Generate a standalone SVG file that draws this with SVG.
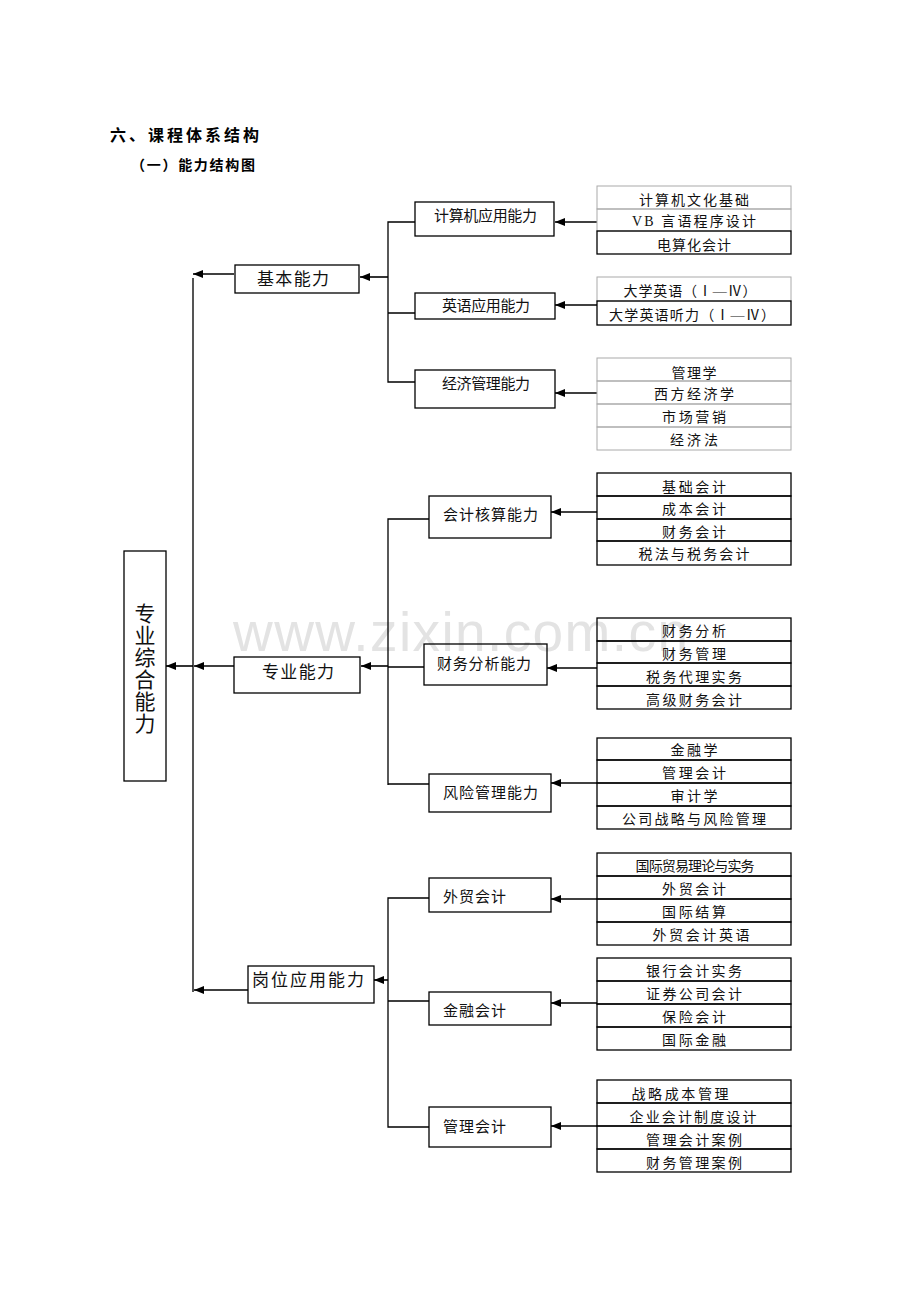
<svg xmlns="http://www.w3.org/2000/svg" width="920" height="1302" viewBox="0 0 920 1302">
<defs>
<marker id="ah" markerWidth="10" markerHeight="8" refX="10" refY="4" orient="auto" markerUnits="userSpaceOnUse"><path d="M0,0 L10,4 L0,8 z" fill="#000"/></marker>
<style>
.t{font-family:"Liberation Sans","Noto Sans CJK SC",sans-serif;font-weight:bold;fill:#000}
.n{font-family:"Liberation Serif","Noto Sans CJK SC",serif;fill:#111}
.c{font-family:"Liberation Serif","Noto Sans CJK SC",serif;font-size:14px;fill:#111;text-anchor:middle}
.box{fill:none;stroke:#000;stroke-width:1.3}
.gb{fill:none;stroke:#aaa;stroke-width:1}
.cb{fill:none;stroke:#000;stroke-width:1.3}
.ln{fill:none;stroke:#000;stroke-width:1.3}
.ar{fill:none;stroke:#000;stroke-width:1.6;marker-end:url(#ah)}
.wm{font-family:"Liberation Sans",Arial,sans-serif;font-size:55px;fill:#e3e3e3}
</style>
</defs>
<rect width="920" height="1302" fill="#fff"/>
<text class="wm" x="233" y="651" textLength="455">www.zixin.com.cn</text>
<text class="t" x="110" y="141" font-size="16" textLength="149">六、课程体系结构</text>
<text class="t" x="131" y="170" font-size="14" textLength="124">（一）能力结构图</text>

<g id="connectors">
<line x1="193" y1="278" x2="193" y2="992" stroke="#555" stroke-width="2"/>
<line class="ar" x1="234" y1="274" x2="193" y2="274"/>
<line class="ar" x1="234" y1="666" x2="194" y2="666"/>
<line class="ar" x1="248" y1="990" x2="194" y2="990"/>
<line class="ar" x1="193" y1="666" x2="166" y2="666"/>
<path class="ln" d="M415,222 H388 V382 H415 M388,313 H415"/>
<line class="ar" x1="388" y1="277" x2="360" y2="277"/>
<path class="ln" d="M429,519 H388 V785 M388,784 H429 M388,667 H424"/>
<line class="ar" x1="388" y1="666" x2="361" y2="666"/>
<path class="ln" d="M429,898 H388 V1127 H429 M388,1001 H429"/>
<line class="ar" x1="388" y1="980" x2="374" y2="980"/>
<line class="ar" x1="597" y1="222" x2="555" y2="222"/>
<line class="ar" x1="597" y1="305" x2="555" y2="305"/>
<line class="ar" x1="597" y1="393" x2="555" y2="393"/>
<line class="ar" x1="597" y1="512" x2="551" y2="512"/>
<line class="ar" x1="597" y1="668" x2="547" y2="668"/>
<line class="ar" x1="597" y1="783" x2="551" y2="783"/>
<line class="ar" x1="597" y1="899" x2="551" y2="899"/>
<line class="ar" x1="597" y1="1003" x2="551" y2="1003"/>
<line class="ar" x1="597" y1="1126" x2="551" y2="1126"/>
</g>

<g id="n-zonghe">
<rect class="box" x="124" y="551" width="42" height="230"/>
<g class="n" font-size="21" text-anchor="middle">
<text x="145" y="621">专</text><text x="145" y="643">业</text><text x="145" y="665">综</text><text x="145" y="687">合</text><text x="145" y="709">能</text><text x="145" y="731">力</text>
</g>
</g>

<g id="n-jiben"><rect class="box" x="235" y="265" width="124" height="28"/><text class="n" x="257" y="285" font-size="17" textLength="72">基本能力</text></g>
<g id="n-zhuanye"><rect class="box" x="234" y="657" width="126" height="36"/><text class="n" x="262" y="678" font-size="17" textLength="72">专业能力</text></g>
<g id="n-gangwei"><rect class="box" x="248" y="966" width="126" height="37"/><text class="n" x="252" y="986" font-size="17" textLength="112">岗位应用能力</text></g>

<g id="n-jsj"><rect class="box" x="415" y="202" width="139" height="34"/><text class="n" x="434" y="221" font-size="15" textLength="103">计算机应用能力</text></g>
<g id="n-yy"><rect class="box" x="415" y="293" width="140" height="26"/><text class="n" x="442" y="311" font-size="15" textLength="88">英语应用能力</text></g>
<g id="n-jj"><rect class="box" x="415" y="370" width="140" height="38"/><text class="n" x="442" y="389" font-size="15" textLength="88">经济管理能力</text></g>
<g id="n-hs"><rect class="box" x="429" y="496" width="122" height="42"/><text class="n" x="443" y="520" font-size="15" textLength="95">会计核算能力</text></g>
<g id="n-cw"><rect class="box" x="424" y="644" width="123" height="41"/><text class="n" x="437" y="669" font-size="15" textLength="94">财务分析能力</text></g>
<g id="n-fx"><rect class="box" x="429" y="774" width="122" height="38"/><text class="n" x="443" y="798" font-size="15" textLength="95">风险管理能力</text></g>
<g id="n-wm"><rect class="box" x="429" y="878" width="122" height="34"/><text class="n" x="443" y="902" font-size="15" textLength="63">外贸会计</text></g>
<g id="n-jr"><rect class="box" x="429" y="992" width="122" height="33"/><text class="n" x="443" y="1016" font-size="15" textLength="63">金融会计</text></g>
<g id="n-gl"><rect class="box" x="429" y="1107" width="122" height="40"/><text class="n" x="443" y="1132" font-size="15" textLength="63">管理会计</text></g>

<g id="c-jsj">
<rect class="gb" x="597" y="186" width="194" height="23"/>
<rect class="gb" x="597" y="209" width="194" height="22"/>
<rect class="cb" x="597" y="231" width="194" height="23"/>
<text class="c" x="694" y="205" textLength="110">计算机文化基础</text>
<text class="c" x="694" y="226" textLength="124">VB 言语程序设计</text>
<text class="c" x="694" y="250" textLength="74">电算化会计</text>
</g>
<g id="c-yy">
<rect class="gb" x="597" y="277" width="194" height="24"/>
<rect class="cb" x="597" y="301" width="194" height="24"/>
<text class="c" x="690" y="296" textLength="133">大学英语（Ⅰ—Ⅳ）</text>
<text class="c" x="692" y="320" textLength="166">大学英语听力（Ⅰ—Ⅳ）</text>
</g>
<g id="c-jj">
<rect class="gb" x="597" y="358" width="194" height="23"/>
<rect class="gb" x="597" y="381" width="194" height="23"/>
<rect class="gb" x="597" y="404" width="194" height="23"/>
<rect class="gb" x="597" y="427" width="194" height="23"/>
<text class="c" x="694" y="378" textLength="45">管理学</text>
<text class="c" x="694" y="399" textLength="80">西方经济学</text>
<text class="c" x="694" y="422" textLength="64">市场营销</text>
<text class="c" x="694" y="445" textLength="48">经济法</text>
</g>
<g id="c-hs">
<rect class="cb" x="597" y="473" width="194" height="23"/>
<rect class="cb" x="597" y="496" width="194" height="23"/>
<rect class="cb" x="597" y="519" width="194" height="22"/>
<rect class="cb" x="597" y="541" width="194" height="24"/>
<text class="c" x="694" y="492" textLength="64">基础会计</text>
<text class="c" x="694" y="514" textLength="64">成本会计</text>
<text class="c" x="694" y="537" textLength="64">财务会计</text>
<text class="c" x="694" y="559" textLength="111">税法与税务会计</text>
</g>
<g id="c-cw">
<rect class="cb" x="597" y="618" width="194" height="23"/>
<rect class="cb" x="597" y="641" width="194" height="22"/>
<rect class="cb" x="597" y="663" width="194" height="23"/>
<rect class="cb" x="597" y="686" width="194" height="23"/>
<text class="c" x="694" y="636" textLength="64">财务分析</text>
<text class="c" x="694" y="659" textLength="64">财务管理</text>
<text class="c" x="694" y="682" textLength="96">税务代理实务</text>
<text class="c" x="694" y="705" textLength="96">高级财务会计</text>
</g>
<g id="c-fx">
<rect class="cb" x="597" y="738" width="194" height="22"/>
<rect class="cb" x="597" y="760" width="194" height="23"/>
<rect class="cb" x="597" y="783" width="194" height="23"/>
<rect class="cb" x="597" y="806" width="194" height="23"/>
<text class="c" x="694" y="755" textLength="47">金融学</text>
<text class="c" x="694" y="778" textLength="64">管理会计</text>
<text class="c" x="694" y="801" textLength="47">审计学</text>
<text class="c" x="694" y="824" textLength="144">公司战略与风险管理</text>
</g>
<g id="c-wm">
<rect class="cb" x="597" y="853" width="194" height="23"/>
<rect class="cb" x="597" y="876" width="194" height="23"/>
<rect class="cb" x="597" y="899" width="194" height="23"/>
<rect class="cb" x="597" y="922" width="194" height="23"/>
<text class="c" x="695" y="871" textLength="119">国际贸易理论与实务</text>
<text class="c" x="694" y="894" textLength="64">外贸会计</text>
<text class="c" x="694" y="917" textLength="64">国际结算</text>
<text class="c" x="701" y="940" textLength="97">外贸会计英语</text>
</g>
<g id="c-jr">
<rect class="cb" x="597" y="958" width="194" height="23"/>
<rect class="cb" x="597" y="981" width="194" height="23"/>
<rect class="cb" x="597" y="1004" width="194" height="23"/>
<rect class="cb" x="597" y="1027" width="194" height="23"/>
<text class="c" x="694" y="976" textLength="96">银行会计实务</text>
<text class="c" x="694" y="999" textLength="96">证券公司会计</text>
<text class="c" x="694" y="1022" textLength="64">保险会计</text>
<text class="c" x="694" y="1045" textLength="64">国际金融</text>
</g>
<g id="c-gl">
<rect class="cb" x="597" y="1080" width="194" height="23"/>
<rect class="cb" x="597" y="1103" width="194" height="23"/>
<rect class="cb" x="597" y="1126" width="194" height="23"/>
<rect class="cb" x="597" y="1149" width="194" height="23"/>
<text class="c" x="680" y="1099" textLength="97">战略成本管理</text>
<text class="c" x="693" y="1122" textLength="127">企业会计制度设计</text>
<text class="c" x="694" y="1145" textLength="96">管理会计案例</text>
<text class="c" x="694" y="1168" textLength="96">财务管理案例</text>
</g>
</svg>
